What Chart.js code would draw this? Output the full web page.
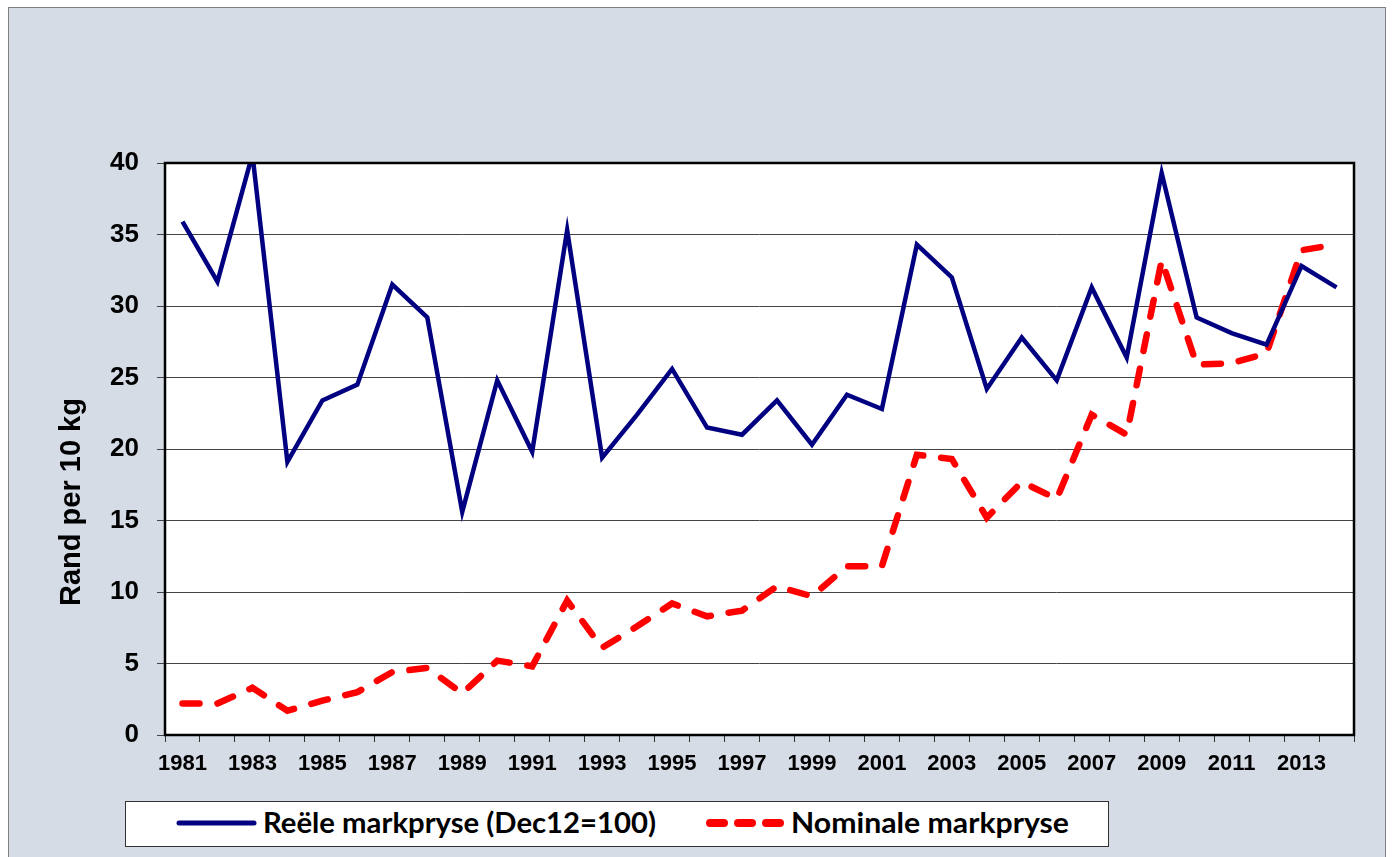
<!DOCTYPE html>
<html>
<head>
<meta charset="utf-8">
<script src="https://cdn.jsdelivr.net/npm/chart.js@4"></script>
<style>
  html, body { margin: 0; padding: 0; background: #fff; overflow: hidden; }
  #panel {
    position: absolute; left: 8px; top: 7px; width: 1378px; height: 900px;
    background: #D6DCE5; border: 1px solid #7f7f7f; box-sizing: border-box;
  }
  #chart { position: absolute; left: 0; top: 0; }
  #legend {
    position: absolute; left: 125px; top: 801px; width: 984px; height: 46px;
    background: #fff; border: 1px solid #333; box-sizing: border-box;
  }
</style>
</head>
<body>
<div id="panel"></div>
<canvas id="chart" width="1395" height="857"></canvas>
<div id="legend"></div>
<script>
const years = [];
for (let y = 1981; y <= 2014; y++) years.push(String(y));

const realPrices = [
  35.9, 31.7, 40.6, 19.1, 23.4, 24.5, 31.5, 29.2, 15.6, 24.8,
  19.8, 35.3, 19.4, 22.4, 25.6, 21.5, 21.0, 23.4, 20.3, 23.8,
  22.8, 34.3, 32.0, 24.2, 27.8, 24.8, 31.3, 26.4, 39.3, 29.2,
  28.1, 27.3, 32.8, 31.3
];
const nominalPrices = [
  2.2, 2.2, 3.3, 1.7, 2.4, 3.0, 4.4, 4.7, 2.9, 5.2,
  4.8, 9.4, 6.1, 7.6, 9.2, 8.3, 8.7, 10.4, 9.7, 11.8,
  11.8, 19.6, 19.3, 15.2, 17.7, 16.5, 22.4, 21.0, 33.2, 25.9,
  26.0, 26.7, 33.9, 34.3
];
const seriesLabels = ["Reële markpryse (Dec12=100)", "Nominale markpryse"];
const yTitle = "Rand per 10 kg";

// white plot background, frame and the rotated axis title
const plotDeco = {
  id: "plotDeco",
  beforeDraw(chart) {
    const a = chart.chartArea, ctx = chart.ctx;
    ctx.save();
    ctx.fillStyle = "#fff";
    ctx.fillRect(a.left, a.top, a.right - a.left, a.bottom - a.top);
    ctx.restore();
  },
  afterDatasetsDraw(chart) {
    const a = chart.chartArea, ctx = chart.ctx;
    ctx.save();
    ctx.strokeStyle = "#000";
    ctx.lineWidth = 2.5;
    ctx.strokeRect(a.left, a.top, a.right - a.left, a.bottom - a.top);
    ctx.translate(72, 502);
    ctx.rotate(-Math.PI / 2);
    ctx.font = "bold 29px 'Liberation Sans', Arial, sans-serif";
    ctx.fillStyle = "#000";
    ctx.textAlign = "center";
    ctx.textBaseline = "middle";
    ctx.fillText(yTitle, 0, 0);
    ctx.restore();
  }
};

const chart = new Chart(document.getElementById("chart"), {
  type: "line",
  data: {
    labels: years,
    datasets: [{
      label: seriesLabels[0],
      data: realPrices,
      borderColor: "#000080",
      borderWidth: 4.5,
      pointRadius: 0,
      tension: 0,
      clip: 0
    }, {
      label: seriesLabels[1],
      data: nominalPrices,
      borderColor: "#ff0000",
      borderWidth: 6.5,
      borderDash: [17, 18],
      borderCapStyle: "round",
      pointRadius: 0,
      tension: 0,
      clip: 0
    }]
  },
  options: {
    responsive: false,
    animation: false,
    layout: { padding: { left: 65, right: 41, top: 163, bottom: 62 } },
    plugins: { legend: { display: false }, tooltip: { enabled: false } },
    scales: {
      x: {
        offset: true,
        afterFit(s) { s.height = 60; },
        grid: { offset: true, drawOnChartArea: false, drawTicks: true, tickLength: 7, color: "#333" },
        border: { display: false },
        ticks: {
          autoSkip: false, maxRotation: 0, padding: 9, color: "#000",
          font: { family: "'Liberation Sans', Arial, sans-serif", size: 22, weight: "bold" },
          callback: (v, i) => (i % 2 === 0 ? years[i] : "")
        }
      },
      y: {
        min: 0, max: 40,
        afterFit(s) { s.width = 100; },
        grid: { color: "#444", lineWidth: 1, tickLength: 8 },
        border: { display: false },
        ticks: {
          stepSize: 5, padding: 18, color: "#000",
          font: { family: "'Liberation Sans', Arial, sans-serif", size: 26, weight: "bold" }
        }
      }
    }
  },
  plugins: [plotDeco]
});

// legend box built from the chart's datasets
const ds = chart.data.datasets;
const svgNS = "http://www.w3.org/2000/svg";
const svg = document.createElementNS(svgNS, "svg");
svg.setAttribute("width", "982");
svg.setAttribute("height", "44");
const items = [
  { x1: 53, x2: 128, tx: 137, tw: 393, dash: null },
  { x1: 584, x2: 660, tx: 665, tw: 278, dash: "14 14" }
];
items.forEach((it, i) => {
  const ln = document.createElementNS(svgNS, "line");
  ln.setAttribute("x1", it.x1); ln.setAttribute("x2", it.x2);
  ln.setAttribute("y1", 21); ln.setAttribute("y2", 21);
  ln.setAttribute("stroke", ds[i].borderColor);
  ln.setAttribute("stroke-width", i === 0 ? 5 : 8);
  ln.setAttribute("stroke-linecap", "round");
  if (it.dash) ln.setAttribute("stroke-dasharray", it.dash);
  svg.appendChild(ln);
  const t = document.createElementNS(svgNS, "text");
  t.setAttribute("x", it.tx); t.setAttribute("y", 31);
  t.setAttribute("font-family", "Lato, 'Liberation Sans', sans-serif");
  t.setAttribute("font-weight", "bold");
  t.setAttribute("font-size", "28");
  t.setAttribute("textLength", it.tw);
  t.setAttribute("lengthAdjust", "spacingAndGlyphs");
  t.setAttribute("fill", "#000");
  t.textContent = ds[i].label;
  svg.appendChild(t);
});
document.getElementById("legend").appendChild(svg);
</script>
</body>
</html>
